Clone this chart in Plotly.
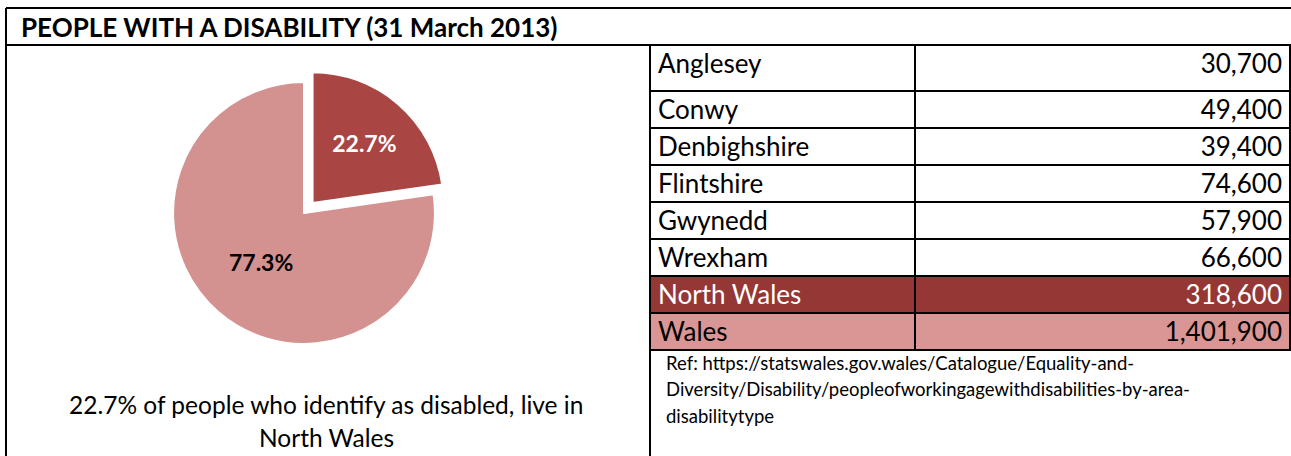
import plotly.graph_objects as go

# ---- data ----
title_text = "PEOPLE WITH A DISABILITY (31 March 2013)"
areas = ["Anglesey", "Conwy", "Denbighshire", "Flintshire", "Gwynedd", "Wrexham", "North Wales", "Wales"]
people = [30700, 49400, 39400, 74600, 57900, 66600, 318600, 1401900]
pie_labels = ["North Wales", "Rest of Wales"]
caption_lines = ["22.7% of people who identify as disabled, live in", "North Wales"]
ref_lines = [
    "Ref: https://statswales.gov.wales/Catalogue/Equality-and-",
    "Diversity/Disability/peopleofworkingagewithdisabilities-by-area-",
    "disabilitytype",
]

W, H = 1291, 456
FONT = "Lato, 'Open Sans', sans-serif"
DARK_ROW = "#953735"
LIGHT_ROW = "#D99694"
PIE_DARK = "#A94543"
PIE_LIGHT = "#D39190"


def px(x):
    return x / W


def py(y):
    return 1 - y / H


pie_values = [people[6], people[7] - people[6]]

fig = go.Figure()

fig.add_trace(go.Pie(
    labels=pie_labels,
    values=pie_values,
    sort=False,
    direction="clockwise",
    rotation=0,
    pull=[0.1, 0],
    marker=dict(colors=[PIE_DARK, PIE_LIGHT], line=dict(color="white", width=2)),
    texttemplate="<b>%{percent:.1%}</b>",
    textposition="inside",
    insidetextorientation="horizontal",
    textfont=dict(family=FONT, size=23, color=["white", "black"]),
    showlegend=False,
    hoverinfo="label+value+percent",
    domain=dict(x=[px(160), px(448)], y=[py(357), py(69)]),
))

fill_col = ["white"] * 5 + [DARK_ROW, LIGHT_ROW]
font_col = ["black"] * 5 + ["white", "black"]

fig.add_trace(go.Table(
    domain=dict(x=[px(650), px(1290)], y=[py(456), py(45)]),
    columnwidth=[265, 375],
    header=dict(
        values=[areas[0], f"{people[0]:,}"],
        align=["left", "right"],
        height=46,
        fill=dict(color="white"),
        line=dict(color="black", width=2),
        font=dict(family=FONT, size=26, color="black"),
    ),
    cells=dict(
        values=[areas[1:], people[1:]],
        format=["", ","],
        align=["left", "right"],
        height=37,
        fill=dict(color=[fill_col, fill_col]),
        line=dict(color="black", width=2),
        font=dict(family=FONT, size=26, color=[font_col, font_col]),
    ),
))

# frame lines
line_style = dict(color="black", width=2)
shapes = [
    dict(type="line", xref="paper", yref="paper", x0=px(6), x1=1, y0=py(8), y1=py(8), line=line_style),
    dict(type="line", xref="paper", yref="paper", x0=px(6), x1=1, y0=py(45), y1=py(45), line=line_style),
    dict(type="line", xref="paper", yref="paper", x0=px(6), x1=px(6), y0=py(8), y1=0, line=line_style),
    dict(type="line", xref="paper", yref="paper", x0=px(650), x1=px(650), y0=py(45), y1=0, line=line_style),
]

annotations = [
    dict(text=f"<b>{title_text}</b>", x=px(19), y=py(27), xref="paper", yref="paper",
         xanchor="left", yanchor="middle", showarrow=False,
         font=dict(family=FONT, size=26, color="black")),
]
for t, yy in zip(caption_lines, [404, 437]):
    annotations.append(dict(text=t, x=px(326), y=py(yy), xref="paper", yref="paper",
                            xanchor="center", yanchor="middle", showarrow=False,
                            font=dict(family=FONT, size=24.5, color="black")))
for t, yy in zip(ref_lines, [363, 389, 416]):
    annotations.append(dict(text=t, x=px(664), y=py(yy), xref="paper", yref="paper",
                            xanchor="left", yanchor="middle", showarrow=False,
                            font=dict(family=FONT, size=18.5, color="black")))

fig.update_layout(
    width=W, height=H,
    margin=dict(l=0, r=0, t=0, b=0),
    paper_bgcolor="white",
    plot_bgcolor="white",
    shapes=shapes,
    annotations=annotations,
)

fig.write_html(
    "out.html",
    config={"displayModeBar": False},
    post_script="document.body.style.margin='0';document.body.style.overflow='hidden';",
)
